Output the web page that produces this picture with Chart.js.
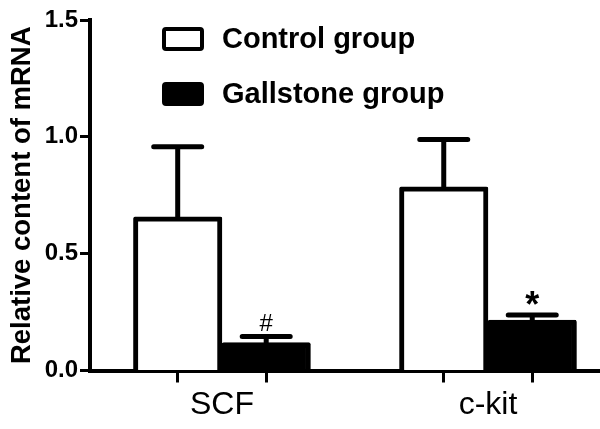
<!DOCTYPE html>
<html>
<head>
<meta charset="utf-8">
<script src="https://cdn.jsdelivr.net/npm/chart.js@4.4.1/dist/chart.umd.min.js"></script>
<style>
    html, body { margin: 0; padding: 0; background: #fff; }
</style>
</head>
<body>
<canvas id="chart" width="600" height="429"></canvas>
<script>
    // data
    var genes = ['SCF', 'c-kit'];
    var controlMean = [0.658, 0.786];
    var controlErr = [0.300, 0.203];
    var gallMean = [0.119, 0.216];
    var gallErr = [0.026, 0.022];
    var gallMarks = ['#', '*'];
    var yTicks = [0, 0.5, 1.0, 1.5];

    var FONT = '"Liberation Sans", Arial, Helvetica, sans-serif';
    var BAR_W = 88.5;

    function pts(values) {
        return values.map(function (v, i) { return {x: i, y: v}; });
    }

    // 에러바 + 유의성 표시
    var errorBarPlugin = {
        id: 'errorBars',
        afterDatasetsDraw: function (chart) {
            var ctx = chart.ctx;
            var yScale = chart.scales.y;
            chart.data.datasets.forEach(function (ds, di) {
                var meta = chart.getDatasetMeta(di);
                meta.data.forEach(function (bar, i) {
                    var top = yScale.getPixelForValue(ds.data[i].y + ds.errors[i]);
                    ctx.save();
                    ctx.strokeStyle = '#000';
                    ctx.lineWidth = 5;
                    ctx.lineCap = 'round';
                    ctx.beginPath();
                    ctx.moveTo(bar.x, bar.y);
                    ctx.lineTo(bar.x, top);
                    ctx.moveTo(bar.x - 24, top);
                    ctx.lineTo(bar.x + 24, top);
                    ctx.stroke();
                    if (ds.marks) {
                        var m = ds.marks[i];
                        var st = m == '*' ? {font: 'bold 36px ', lift: -2} : {font: '24px ', lift: 6};
                        ctx.fillStyle = '#000';
                        ctx.font = st.font + FONT;
                        ctx.textAlign = 'center';
                        ctx.textBaseline = 'alphabetic';
                        ctx.fillText(m, bar.x, top - st.lift);
                    }
                    ctx.restore();
                });
            });
        }
    };

    var legendPlugin = {
        id: 'boxLegend',
        afterDraw: function (chart) {
            var ctx = chart.ctx;
            chart.data.datasets.forEach(function (ds, i) {
                var y = 27 + i * 55;
                ctx.save();
                ctx.fillStyle = ds.backgroundColor;
                ctx.strokeStyle = '#000';
                ctx.lineWidth = 4;
                ctx.beginPath();
                ctx.roundRect(164, y + 2, 38, 20, 2);
                ctx.fill();
                ctx.stroke();
                ctx.fillStyle = '#000';
                ctx.font = 'bold 29px ' + FONT;
                ctx.textAlign = 'left';
                ctx.textBaseline = 'middle';
                ctx.fillText(ds.label, 222, y + 13);
                ctx.restore();
            });
        }
    };

    new Chart(document.getElementById('chart').getContext('2d'), {
        type: 'bar',
        data: {
            datasets: [{
                label: 'Control group',
                data: pts(controlMean),
                errors: controlErr,
                backgroundColor: '#fff',
                borderColor: '#000',
                borderWidth: 5,
                borderSkipped: 'start',
                borderRadius: 2
            }, {
                label: 'Gallstone group',
                data: pts(gallMean),
                errors: gallErr,
                marks: gallMarks,
                backgroundColor: '#000',
                borderColor: '#000',
                borderWidth: 5,
                borderSkipped: 'start',
                borderRadius: 2
            }]
        },
        options: {
            responsive: false,
            animation: false,
            layout: {padding: {top: 20, right: 0, left: 0, bottom: 0}},
            barThickness: BAR_W,
            plugins: {
                legend: {display: false},
                tooltip: {enabled: false}
            },
            scales: {
                x: {
                    type: 'linear',
                    offset: false,
                    min: -0.496,
                    max: 1.421,
                    afterBuildTicks: function (scale) {
                        // ticks under each bar centre, label tick at the group centre
                        var off = (BAR_W / 2) / (scale.width / (scale.max - scale.min));
                        var t = [];
                        genes.forEach(function (g, i) {
                            t.push({value: i - off}, {value: i}, {value: i + off});
                        });
                        scale.ticks = t;
                    },
                    afterFit: function (scale) { scale.height = 58.5; },
                    border: {color: '#000', width: 4},
                    grid: {
                        offset: false,
                        drawOnChartArea: false,
                        tickLength: 12,
                        tickWidth: 3,
                        tickColor: function (c) {
                            return (c.tick && Number.isInteger(c.tick.value)) ? 'rgba(0,0,0,0)' : '#000';
                        }
                    },
                    ticks: {
                        autoSkip: false,
                        maxRotation: 0,
                        padding: 3,
                        color: '#000',
                        font: {family: FONT, size: 32},
                        callback: function (v) {
                            return Number.isInteger(v) ? genes[v] : '';
                        }
                    }
                },
                y: {
                    min: 0,
                    max: 1.5,
                    afterBuildTicks: function (scale) {
                        scale.ticks = yTicks.map(function (v) { return {value: v}; });
                    },
                    afterFit: function (scale) { scale.width = 90; },
                    border: {color: '#000', width: 4},
                    grid: {
                        drawOnChartArea: false,
                        tickLength: 10,
                        tickWidth: 3,
                        tickColor: '#000'
                    },
                    ticks: {
                        padding: 2,
                        color: '#000',
                        font: {family: FONT, size: 24, weight: 'bold'},
                        callback: function (v) { return v.toFixed(1); }
                    },
                    title: {
                        display: true,
                        text: 'Relative content of mRNA',
                        color: '#000',
                        padding: {top: 6, bottom: 0},
                        font: {family: FONT, size: 27.5, weight: 'bold'}
                    }
                }
            }
        },
        plugins: [errorBarPlugin, legendPlugin]
    });
</script>
</body>
</html>
